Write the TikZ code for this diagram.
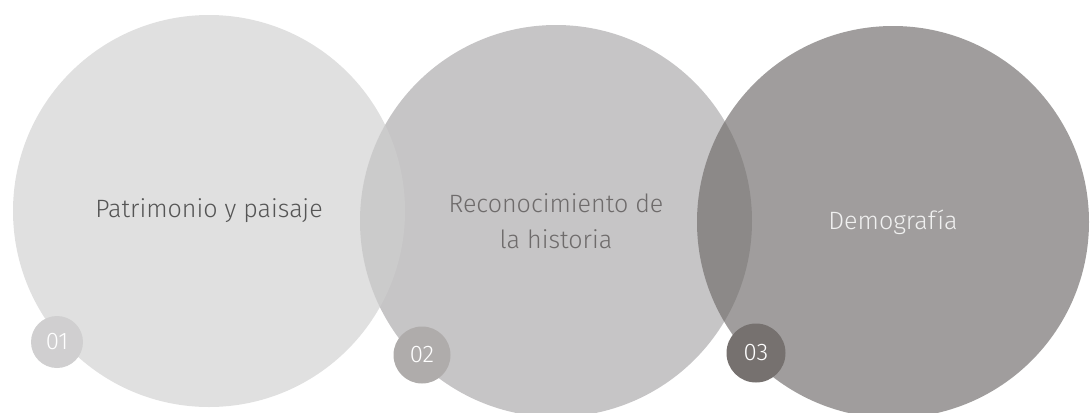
\documentclass[tikz,border=0pt]{standalone}
\usepackage{fontspec}
\setmainfont{Fira Sans}[UprightFont=* Light]
\usetikzlibrary{positioning}

\definecolor{grisuno}{HTML}{CFCFCF}
\definecolor{grisdos}{HTML}{C6C5C6}
\definecolor{gristres}{HTML}{6D6968}
\definecolor{textouno}{HTML}{555555}
\definecolor{textodos}{HTML}{6E6B6B}
\definecolor{numuno}{HTML}{D0CFD0}
\definecolor{numdos}{HTML}{AFACAB}
\definecolor{numtres}{HTML}{76716F}

\begin{document}
\begin{tikzpicture}[
		x=0.75pt, y=-0.75pt,
		circulo/.style={circle, inner sep=0pt, minimum size=294pt, align=center, font=\fontsize{18.8}{27}\selectfont},
		numero/.style={circle, inner sep=0pt, text=white, font=\fontsize{18}{18}\selectfont}
	]
	\useasboundingbox (0,0) rectangle (1090,412);

	\node[circulo, fill=grisdos, text=textodos] (hist) at (556,221) {Reconocimiento de\\ la historia};
	\node[circulo, fill=grisuno, fill opacity=0.65, text opacity=1, text=textouno] (patr) at (209,211) {Patrimonio y paisaje};
	\node[circulo, fill=gristres, fill opacity=0.65, text opacity=1, text=white!94!black] (demo) at (893,222) {Demografía};

	\node[numero, fill=numuno, minimum size=39pt] (n1) at (57,342) {01};
	\node[numero, fill=numdos, minimum size=42.75pt] (n2) at (422,355) {02};
	\node[numero, fill=numtres, minimum size=44.25pt] (n3) at (756,353) {03};
\end{tikzpicture}
\end{document}
